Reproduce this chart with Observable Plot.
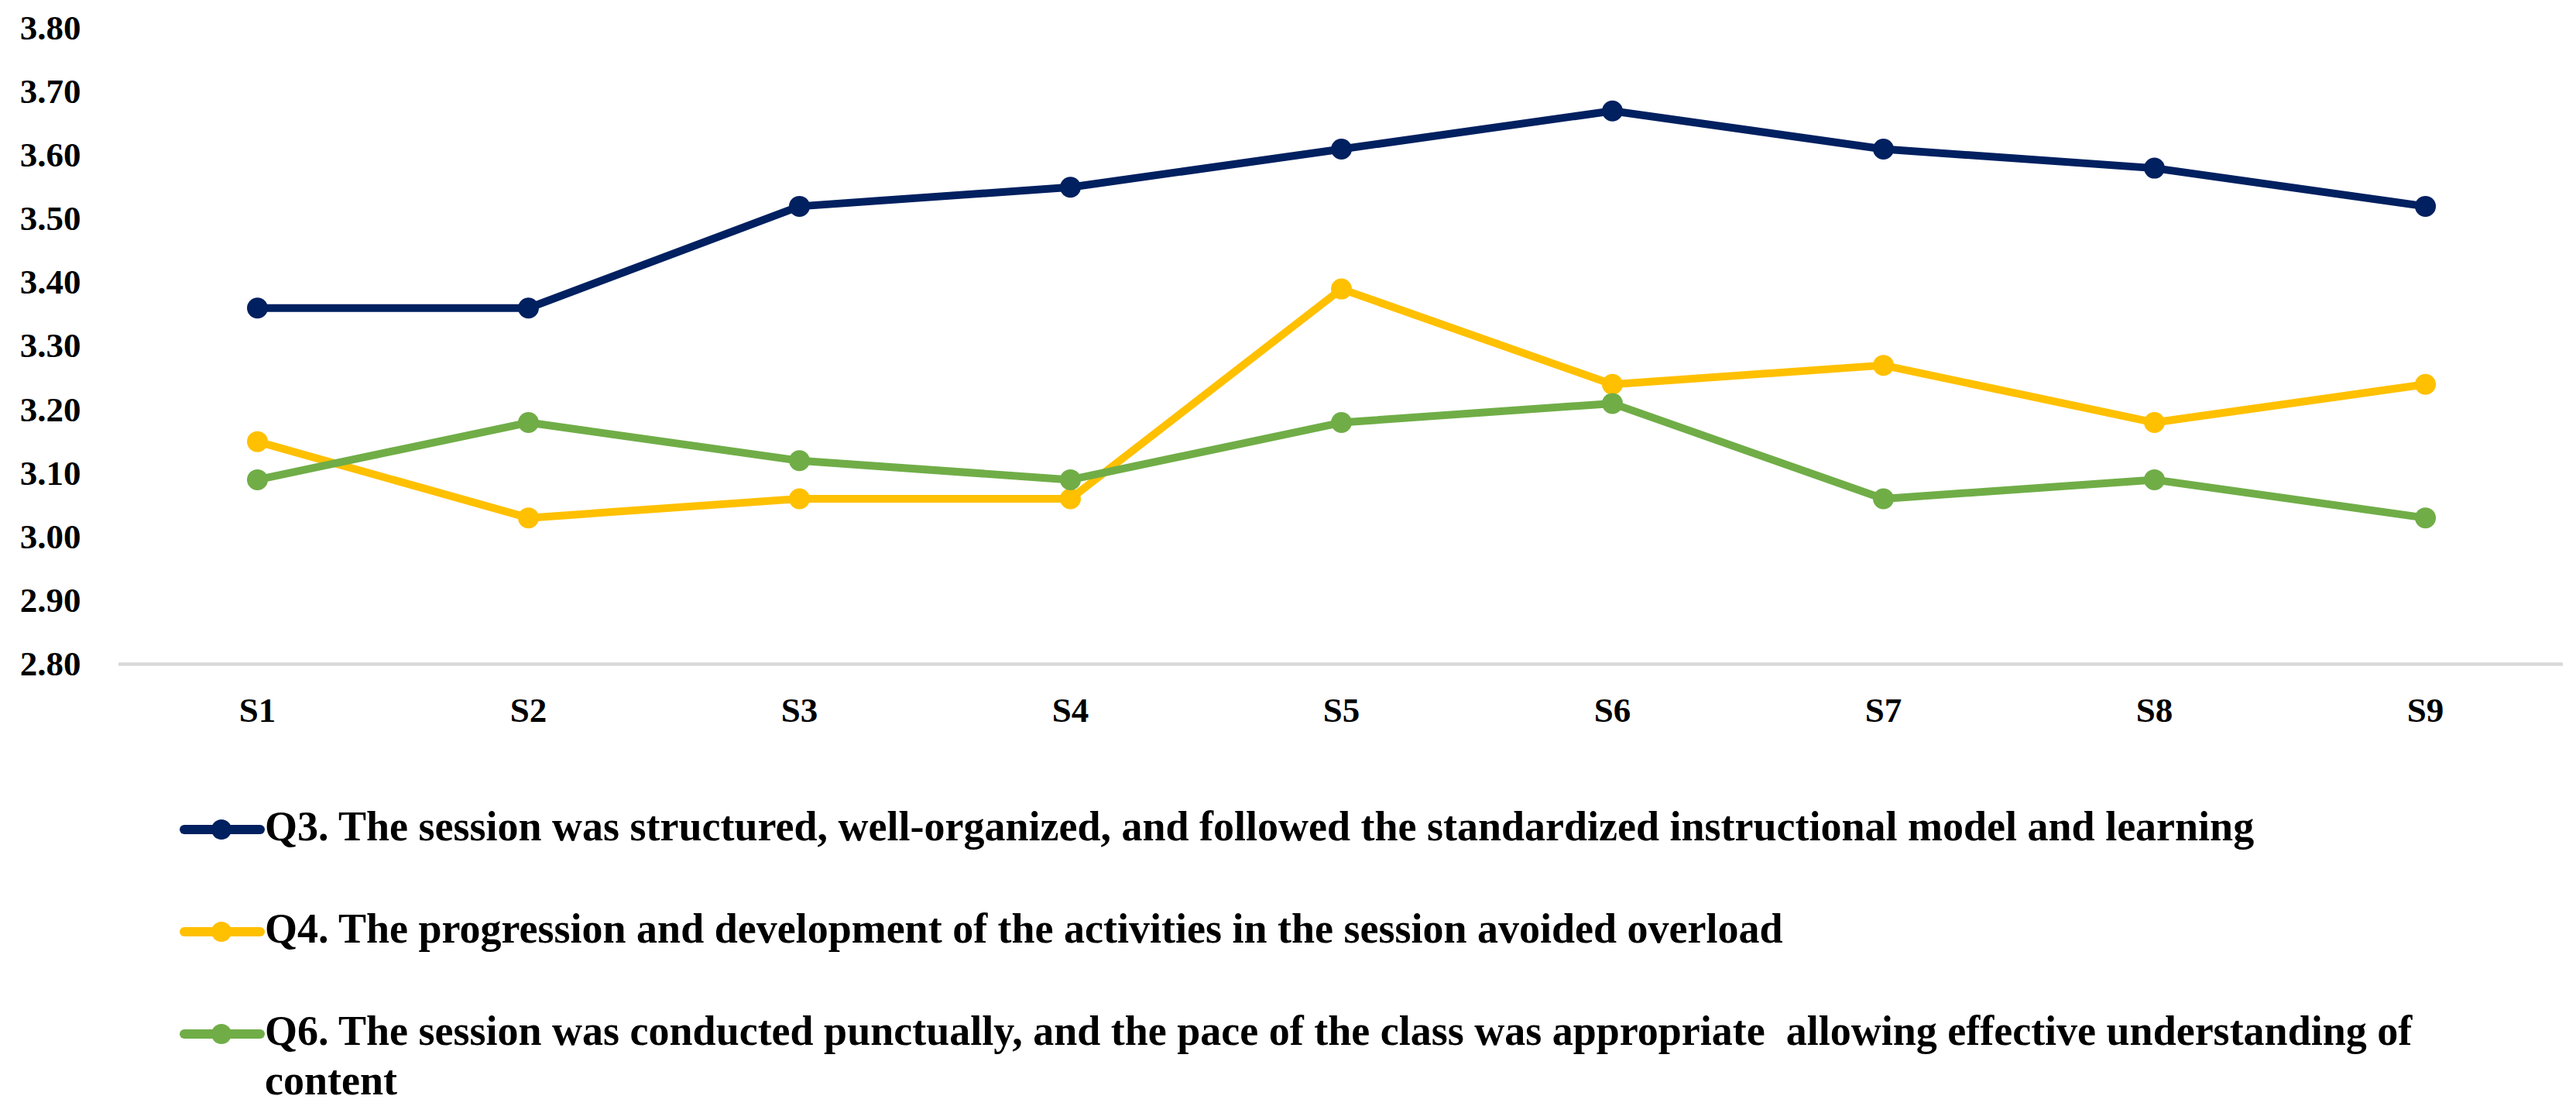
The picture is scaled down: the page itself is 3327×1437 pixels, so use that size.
<!DOCTYPE html>
<html>
<head>
<meta charset="utf-8">
<script src="https://cdn.jsdelivr.net/npm/d3@7"></script>
<script src="https://cdn.jsdelivr.net/npm/@observablehq/plot@0.6"></script>
<style>
  html, body { margin: 0; padding: 0; background: #fff; }
  body { width: 3327px; height: 1437px; overflow: hidden; font-family: "Liberation Serif", serif; }
  #legend { padding-top: 78px; }
  .row { display: flex; align-items: flex-start; padding-left: 232px; font-weight: bold; font-size: 54px; line-height: 64px; color: #000; }
  .row + .row { margin-top: 68px; }
  .row svg { flex: none; }
  .row .txt { white-space: pre-wrap; }
</style>
</head>
<body>
<div id="chart"></div>
<div id="legend"></div>
<script>
const sessions = ["S1", "S2", "S3", "S4", "S5", "S6", "S7", "S8", "S9"];
const seriesNames = [
  "Q3. The session was structured, well-organized, and followed the standardized instructional model and learning",
  "Q4. The progression and development of the activities in the session avoided overload",
  "Q6. The session was conducted punctually, and the pace of the class was appropriate  allowing effective understanding of\ncontent"
];
const q3 = [3.36, 3.36, 3.52, 3.55, 3.61, 3.67, 3.61, 3.58, 3.52];
const q4 = [3.15, 3.03, 3.06, 3.06, 3.39, 3.24, 3.27, 3.18, 3.24];
const q6 = [3.09, 3.18, 3.12, 3.09, 3.18, 3.21, 3.06, 3.09, 3.03];
const colors = ["#002060", "#FFC000", "#70AD47"];
const yTicks = [2.8, 2.9, 3.0, 3.1, 3.2, 3.3, 3.4, 3.5, 3.6, 3.7, 3.8];

const seriesValues = [q3, q4, q6];
const data = [];
seriesValues.forEach((vals, i) => {
  vals.forEach((v, j) => data.push({series: seriesNames[i], session: sessions[j], value: v}));
});

const chart = Plot.plot({
  width: 3327,
  height: 957,
  marginTop: 36,
  marginLeft: 153,
  marginRight: 17,
  marginBottom: 100,
  style: {fontFamily: "'Liberation Serif', serif", background: "#fff", color: "#000"},
  x: {type: "point", domain: sessions, padding: 0.5, label: null},
  y: {domain: [2.8, 3.8], label: null},
  color: {domain: seriesNames, range: colors},
  marks: [
    Plot.ruleY([2.8], {stroke: "#d9d9d9", strokeWidth: 4.5}),
    Plot.axisY(yTicks, {tickSize: 0, tickPadding: 49, tickFormat: d3.format(".2f"), fontSize: 45, fontWeight: "bold", label: null}),
    Plot.axisX({tickSize: 0, tickPadding: 43, fontSize: 45, fontWeight: "bold", label: null}),
    Plot.line(data, {x: "session", y: "value", z: "series", stroke: "series", strokeWidth: 10, strokeLinejoin: "round", strokeLinecap: "round"}),
    Plot.dot(data, {x: "session", y: "value", fill: "series", r: 13.5, stroke: null})
  ]
});
document.getElementById("chart").appendChild(chart);

const legend = document.getElementById("legend");
seriesNames.forEach((name, i) => {
  const row = document.createElement("div");
  row.className = "row";
  const ns = "http://www.w3.org/2000/svg";
  const svg = document.createElementNS(ns, "svg");
  svg.setAttribute("width", 110);
  svg.setAttribute("height", 64);
  const line = document.createElementNS(ns, "line");
  line.setAttribute("x1", 6); line.setAttribute("x2", 104);
  line.setAttribute("y1", 36); line.setAttribute("y2", 36);
  line.setAttribute("stroke", colors[i]);
  line.setAttribute("stroke-width", 12);
  line.setAttribute("stroke-linecap", "round");
  const c = document.createElementNS(ns, "circle");
  c.setAttribute("cx", 54); c.setAttribute("cy", 36); c.setAttribute("r", 13);
  c.setAttribute("fill", colors[i]);
  svg.appendChild(line); svg.appendChild(c);
  const t = document.createElement("div");
  t.className = "txt";
  t.textContent = name;
  row.appendChild(svg);
  row.appendChild(t);
  legend.appendChild(row);
});
</script>
</body>
</html>
